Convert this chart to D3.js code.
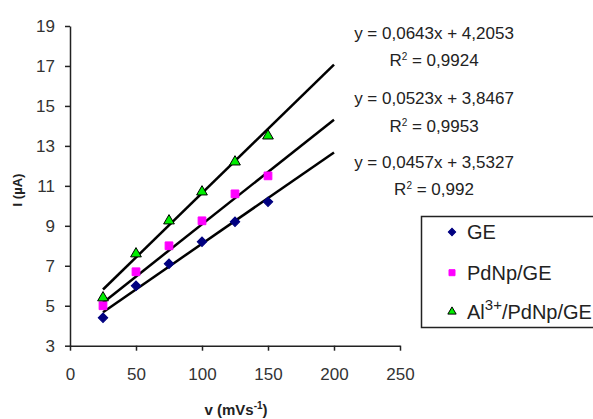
<!DOCTYPE html>
<html>
<head>
<meta charset="utf-8">
<script src="https://cdn.jsdelivr.net/npm/d3@7"></script>
<style>
  body { margin: 0; background: #fff; }
  svg { display: block; font-family: "Liberation Sans", Arial, sans-serif; }
</style>
</head>
<body>
<svg id="chart" width="593" height="419"></svg>
<script>
// Data
const scanRates = [25, 50, 75, 100, 125, 150];
const geValues = [4.4, 6.0, 7.1, 8.2, 9.2, 10.2];
const pdnpValues = [5.0, 6.7, 8.0, 9.25, 10.6, 11.5];
const alValues = [5.4, 7.6, 9.25, 10.7, 12.2, 13.5];

const slopes = [0.0457, 0.0523, 0.0643];
const intercepts = [3.5327, 3.8467, 4.2053];
const equations = ['y = 0,0457x + 3,5327', 'y = 0,0523x + 3,8467', 'y = 0,0643x + 4,2053'];
const r2Values = ['0,992', '0,9953', '0,9924'];
const fitRange = [25, 200];

const xTicks = [0, 50, 100, 150, 200, 250];
const yTicks = [3, 5, 7, 9, 11, 13, 15, 17, 19];

const svg = d3.select('#chart');

const x = d3.scaleLinear().domain([0, 250]).range([70, 400]);
const y = d3.scaleLinear().domain([3, 19]).range([345.7, 26]);

// Axes
const xAxis = svg.append('g')
    .attr('transform', `translate(0,${y(3)})`)
    .call(d3.axisBottom(x).tickValues(xTicks).tickSize(5).tickSizeOuter(0).tickPadding(17));
const yAxis = svg.append('g')
    .attr('transform', `translate(${x(0)},0)`)
    .call(d3.axisLeft(y).tickValues(yTicks).tickSize(5).tickSizeOuter(0).tickPadding(10));

[xAxis, yAxis].forEach(a => {
    a.select('.domain').attr('stroke', '#222').attr('stroke-width', 1.5);
    a.selectAll('.tick line').attr('stroke', '#222').attr('stroke-width', 1.5);
    a.selectAll('.tick text')
        .attr('font-size', '17px')
        .attr('font-family', '"Liberation Sans", Arial, sans-serif')
        .attr('fill', '#333');
});

// Trend lines
const line = d3.line().x(d => x(d[0])).y(d => y(d[1]));
slopes.forEach((m, i) => {
    svg.append('path')
        .datum(fitRange.map(v => [v, m * v + intercepts[i]]))
        .attr('d', line)
        .attr('stroke', '#000')
        .attr('stroke-width', 2.5)
        .attr('fill', 'none');
});

// Series markers (diamond = rotated square)
const series = [
    { name: 'GE', values: geValues, shape: d3.symbolSquare, rot: 45, size: 45, fill: '#000080', stroke: '#000080' },
    { name: 'PdNp/GE', values: pdnpValues, shape: d3.symbolSquare, rot: 0, size: 60, fill: '#ff00ff', stroke: '#ff00ff' },
    { name: 'Al', values: alValues, shape: d3.symbolTriangle, rot: 0, size: 50, fill: '#00ee00', stroke: '#000' }
];

series.forEach(s => {
    svg.append('g').selectAll('path')
        .data(s.values)
        .enter().append('path')
        .attr('transform', (d, i) => `translate(${x(scanRates[i])},${y(d)}) rotate(${s.rot})`)
        .attr('d', d3.symbol().type(s.shape).size(s.size))
        .attr('fill', s.fill)
        .attr('stroke', s.stroke)
        .attr('stroke-width', 1);
});

// Equation labels
const eqY = [[161.7, 189], [98.3, 126], [33.3, 60]];
equations.forEach((eq, i) => {
    svg.append('text')
        .attr('x', 434).attr('y', eqY[i][0]).attr('dy', '0.35em')
        .attr('text-anchor', 'middle')
        .attr('font-size', '17px').attr('fill', '#222')
        .text(eq);
    const r = svg.append('text')
        .attr('x', 434).attr('y', eqY[i][1]).attr('dy', '0.35em')
        .attr('text-anchor', 'middle')
        .attr('font-size', '17px').attr('fill', '#222');
    r.append('tspan').text('R');
    r.append('tspan').attr('font-size', '10px').attr('dy', '-6').text('2');
    r.append('tspan').attr('dy', '6').text(' = ' + r2Values[i]);
});

// Axis titles
const xt = svg.append('text')
    .attr('x', 236).attr('y', 415)
    .attr('text-anchor', 'middle')
    .attr('font-size', '15px').attr('font-weight', 'bold').attr('fill', '#222');
xt.append('tspan').text('v (mVs');
xt.append('tspan').attr('font-size', '10px').attr('dy', '-6').text('-1');
xt.append('tspan').attr('dy', '6').text(')');

svg.append('text')
    .attr('transform', 'translate(22,190) rotate(-90)')
    .attr('text-anchor', 'middle')
    .attr('font-size', '13px').attr('font-weight', 'bold').attr('fill', '#222')
    .text('I (µA)');

// Legend
const legend = svg.append('g');
legend.append('rect')
    .attr('x', 421.5).attr('y', 216.5)
    .attr('width', 200).attr('height', 111)
    .attr('fill', '#fff').attr('stroke', '#222').attr('stroke-width', 1.5);

const legendY = [232, 272.7, 311.7];
series.forEach((s, i) => {
    legend.append('path')
        .attr('transform', `translate(452,${legendY[i]}) rotate(${s.rot})`)
        .attr('d', d3.symbol().type(s.shape).size(s.size * 0.6))
        .attr('fill', s.fill)
        .attr('stroke', s.stroke)
        .attr('stroke-width', 1);
    const t = legend.append('text')
        .attr('x', 467).attr('y', legendY[i]).attr('dy', '0.35em')
        .attr('font-size', '20px').attr('fill', '#222');
    if (s.name === 'Al') {
        t.append('tspan').text('Al');
        t.append('tspan').attr('font-size', '15px').attr('dy', '-9').text('3+');
        t.append('tspan').attr('dy', '9').text('/PdNp/GE');
    } else {
        t.text(s.name);
    }
});
</script>
</body>
</html>
